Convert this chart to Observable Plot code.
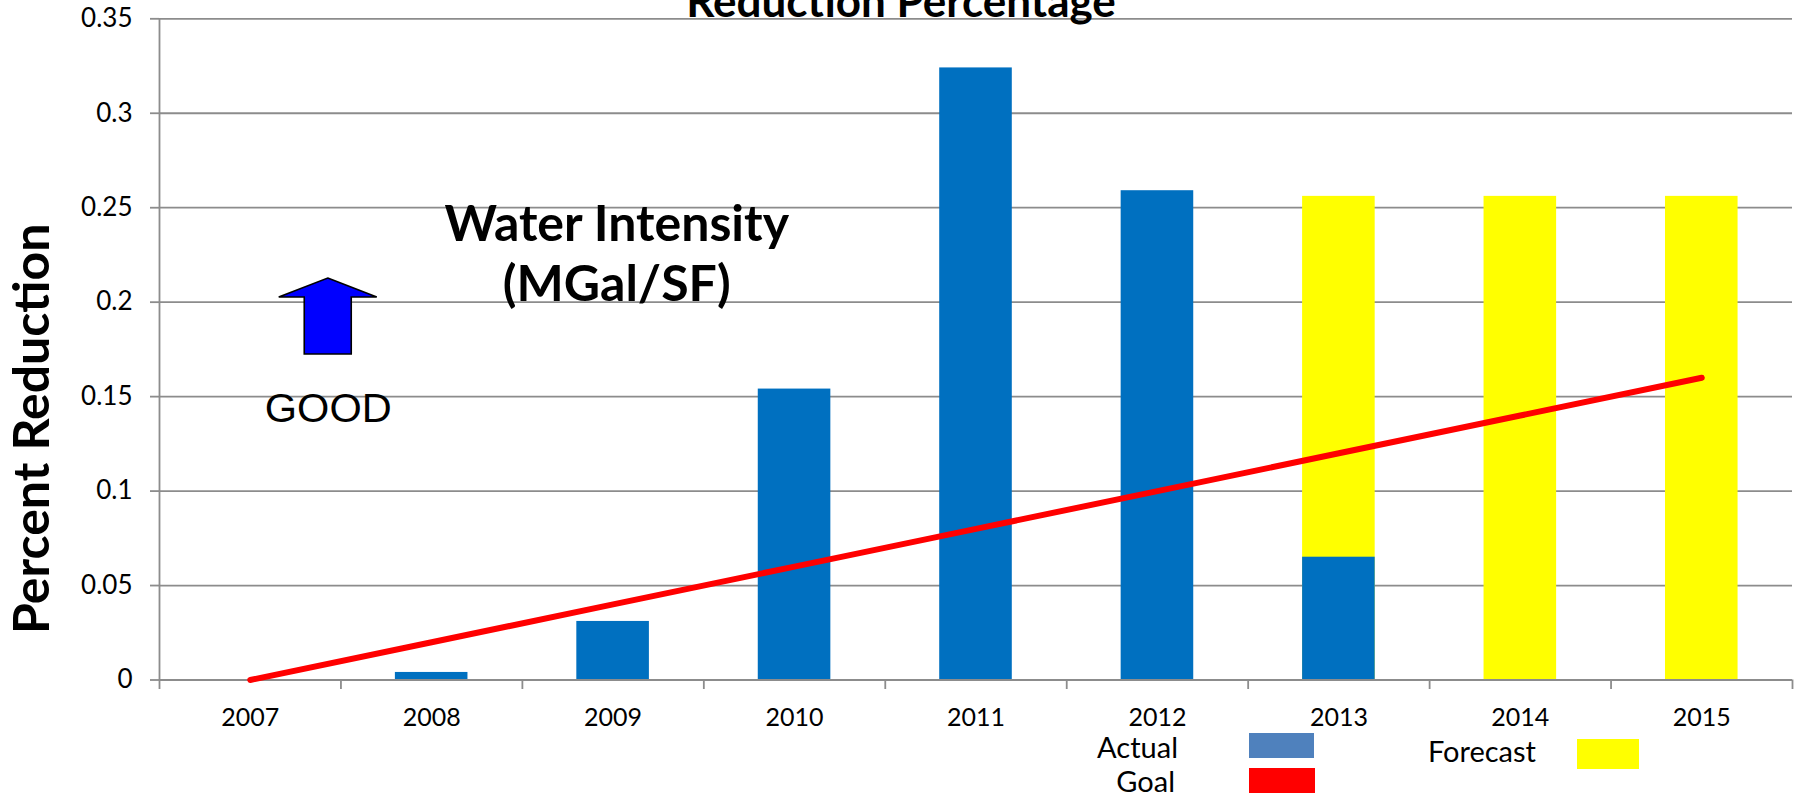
<!DOCTYPE html>
<html><head><meta charset="utf-8">
<script src="https://cdn.jsdelivr.net/npm/d3@7"></script>
<script src="https://cdn.jsdelivr.net/npm/@observablehq/plot@0.6"></script>
<style>
html,body{margin:0;padding:0;background:#fff;overflow:hidden;}
#chart svg{display:block;}
</style></head><body><div id="chart"></div>
<script>
// ---- data ----
const years = [2007, 2008, 2009, 2010, 2011, 2012, 2013, 2014, 2015];
const actual = [0, 0.004, 0.031, 0.154, 0.324, 0.259, 0.065, null, null];
const forecast = [null, null, null, null, null, null, 0.256, 0.256, 0.256];
const goal = [0, 0.02, 0.04, 0.06, 0.08, 0.10, 0.12, 0.14, 0.16];
const yTicks = [0, 0.05, 0.1, 0.15, 0.2, 0.25, 0.3, 0.35];
const yTickLabels = ["0", "0.05", "0.1", "0.15", "0.2", "0.25", "0.3", "0.35"];
const xTickLabels = ["2007", "2008", "2009", "2010", "2011", "2012", "2013", "2014", "2015"];
const title = "Reduction Percentage";
const yLabel = "Percent Reduction";
const noteLines = ["Water Intensity", "(MGal/SF)"];
const noteY = [0.2326, 0.2004];
const noteX = 2009.02;
const goodLabel = "GOOD";
const goodPos = {x: 2007.43, y: 0.1368};
const arrowPos = {x: 2007.43, tip: 0.2125, base: 0.1723};
const legendLabels = ["Actual", "Goal", "Forecast"];
const legendColors = ["#4F81BD", "#FF0000", "#FFFF00"];

const rows = years.map((year, i) => ({year, label: xTickLabels[i], actual: actual[i], forecast: forecast[i], goal: goal[i]}));
const boundaries = years.map(y => y - 0.5).concat([years[years.length - 1] + 0.5]);
const gridColor = "#8c8c8c";

function arrowMark(index, scales) {
  const cx = scales.x(arrowPos.x), tipY = scales.y(arrowPos.tip), baseY = scales.y(arrowPos.base);
  const headH = 19, headW = 49, shaftW = 23.5;
  const pts = [[cx, tipY], [cx + headW, tipY + headH], [cx + shaftW, tipY + headH], [cx + shaftW, baseY],
               [cx - shaftW, baseY], [cx - shaftW, tipY + headH], [cx - headW, tipY + headH]];
  return d3.create("svg:polygon")
    .attr("points", pts.map(p => p.join(",")).join(" "))
    .attr("fill", "#0000FF").attr("stroke", "#000").attr("stroke-width", 1.6)
    .attr("stroke-linejoin", "miter").node();
}

const plot = Plot.plot({
  width: 1802, height: 797,
  marginLeft: 159, marginRight: 10, marginTop: 18.3, marginBottom: 117.5,
  style: {fontFamily: "Lato, sans-serif", background: "#fff", color: "#000", overflow: "visible"},
  x: {type: "linear", domain: [years[0] - 0.5, years[years.length - 1] + 0.5]},
  y: {domain: [0, 0.35]},
  marks: [
    Plot.ruleY(yTicks.slice(1), {stroke: gridColor, strokeWidth: 1.8}),
    Plot.axisY(yTicks, {tickSize: 9, tickPadding: 18, stroke: gridColor, strokeWidth: 1.8, fontSize: 26, fill: "#000",
      tickFormat: d => yTickLabels[yTicks.indexOf(d)], label: null}),
    Plot.axisX(years, {tickSize: 0, tickPadding: 28.5, fontSize: 25, fill: "#000",
      tickFormat: d => xTickLabels[years.indexOf(d)], label: null}),
    Plot.axisX(boundaries, {tickSize: 9.5, tickFormat: () => "", stroke: gridColor, strokeWidth: 1.8, label: null}),
    Plot.rectY(rows.filter(d => d.forecast != null), {x1: d => d.year - 0.2, x2: d => d.year + 0.2, y1: 0, y2: "forecast", fill: "#FFFF00"}),
    Plot.rectY(rows.filter(d => d.actual), {x1: d => d.year - 0.2, x2: d => d.year + 0.2, y1: 0, y2: "actual", fill: "#0070C0"}),
    Plot.ruleX([boundaries[0]], {y1: 0, y2: 0.35, stroke: gridColor, strokeWidth: 1.8}),
    Plot.ruleY([0], {stroke: gridColor, strokeWidth: 1.8}),
    Plot.line(rows, {x: "year", y: "goal", stroke: "#FF0000", strokeWidth: 6, strokeLinecap: "round"}),
    Plot.text([title], {frameAnchor: "top", lineAnchor: "bottom", dx: -75, dy: -2.3, fontSize: 44, fontWeight: "bold", fill: "#000"}),
    Plot.text([yLabel], {frameAnchor: "left", y: () => 0.133, rotate: -90, dx: -127, fontSize: 50, fontWeight: "bold", fill: "#000", textAnchor: "middle", lineAnchor: "middle"}),
    Plot.text(noteLines, {x: () => noteX, y: (d, i) => noteY[i], lineAnchor: "bottom", fontSize: 50, fontWeight: "bold", fill: "#000"}),
    Plot.text([goodLabel], {x: () => goodPos.x, y: () => goodPos.y, lineAnchor: "bottom", fontSize: 41.5, fontFamily: "Liberation Sans, Arial, sans-serif", fill: "#000"}),
    arrowMark
  ]
});
document.getElementById("chart").appendChild(plot);

// ---- legend (drawn into the same SVG, below the axis labels) ----
const svg = d3.select(plot);
const legendLayout = [
  {textRight: 1178, baseline: 758, sx: 1249, sy: 733, sw: 65, sh: 25},
  {textRight: 1175, baseline: 792, sx: 1249, sy: 768, sw: 66, sh: 25},
  {textRight: 1536, baseline: 762, sx: 1577, sy: 739, sw: 62, sh: 30}
];
const lg = svg.append("g").attr("font-family", "Lato, sans-serif").attr("font-size", 29);
legendLabels.forEach((lab, i) => {
  const L = legendLayout[i];
  lg.append("rect").attr("x", L.sx).attr("y", L.sy).attr("width", L.sw).attr("height", L.sh).attr("fill", legendColors[i]);
  lg.append("text").attr("x", L.textRight).attr("y", L.baseline).attr("text-anchor", "end").attr("fill", "#000").text(lab);
});
</script></body></html>
